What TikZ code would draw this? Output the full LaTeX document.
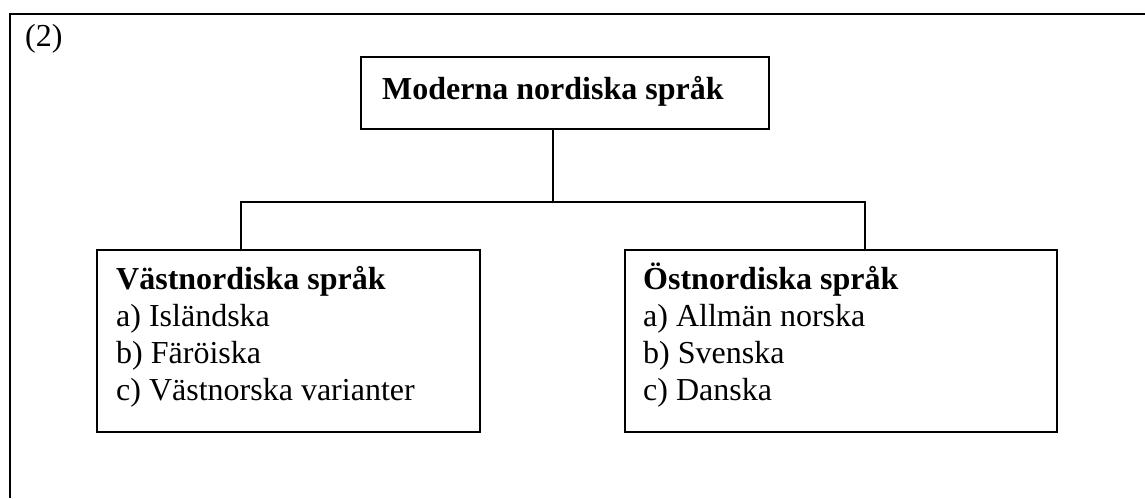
\documentclass[tikz,border=0pt]{standalone}
\usepackage{fontspec}
\setmainfont{Liberation Serif}
\begin{document}
\begin{tikzpicture}[x=1pt,y=-1pt,
  box/.style={draw, line width=1.3pt, inner sep=0pt, outer sep=0pt},
  conn/.style={line width=1.3pt},
  lbl/.style={anchor=base west, inner sep=0pt, font=\fontsize{32}{37}\selectfont},
  hd/.style={lbl, font=\fontsize{32}{37}\selectfont\bfseries}]
\useasboundingbox (0,0) rectangle (1145,498);
\draw[line width=2pt] (10,498) -- (10,14) -- (1145,14);
\node[lbl] (num) at (25,46) {(2)};
% boxes
\node[box, minimum width=408pt, minimum height=72pt] (top) at (565,93) {};
\node[box, minimum width=383pt, minimum height=182pt] (west) at (288.5,341) {};
\node[box, minimum width=432pt, minimum height=182pt] (east) at (841,341) {};
% texts
\node[hd] (toptxt) at (382,99) {Moderna nordiska språk};
\node[hd] (w0) at (116,289) {Västnordiska språk};
\node[lbl] (w1) at (116,326) {a) Isländska};
\node[lbl] (w2) at (116,363) {b) Färöiska};
\node[lbl] (w3) at (116,400) {c) Västnorska varianter};
\node[hd] (e0) at (643,289) {Östnordiska språk};
\node[lbl] (e1) at (643,326) {a) Allmän norska};
\node[lbl] (e2) at (643,363) {b) Svenska};
\node[lbl] (e3) at (643,400) {c) Danska};
% connectors
\coordinate (j) at (553,202);
\coordinate (jl) at (241,202);
\coordinate (jr) at (865,202);
\draw[conn] (j |- top.south) -- (j);
\draw[conn] (jl |- west.north) -- (jl) -- (jr) -- (jr |- east.north);
\end{tikzpicture}
\end{document}
